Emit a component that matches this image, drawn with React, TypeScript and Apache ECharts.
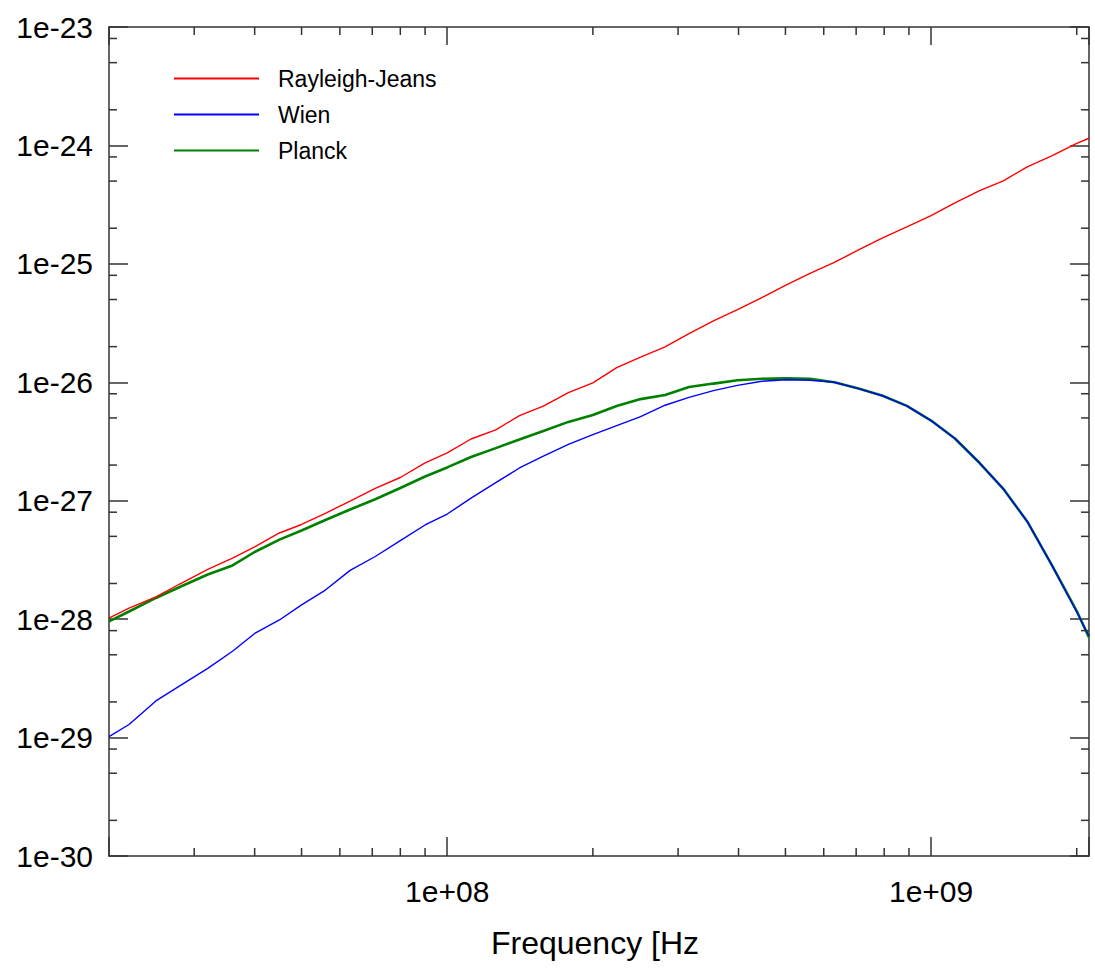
import React, { useEffect, useRef } from 'react';
import * as echarts from 'echarts';

// Frequency grid [Hz] (read positions along the x axis)
const frequency = [
  2.0e7, 2.2e7, 2.5e7, 2.8e7, 3.2e7, 3.6e7, 4.0e7, 4.5e7, 5.0e7, 5.6e7,
  6.3e7, 7.1e7, 8.0e7, 9.0e7, 1.0e8, 1.12e8, 1.26e8, 1.41e8, 1.58e8, 1.78e8,
  2.0e8, 2.24e8, 2.51e8, 2.82e8, 3.16e8, 3.55e8, 3.98e8, 4.47e8, 5.01e8, 5.62e8,
  6.31e8, 7.08e8, 7.94e8, 8.91e8, 1.0e9, 1.12e9, 1.26e9, 1.41e9, 1.58e9, 1.78e9,
  2.0e9, 2.12e9,
];

const rayleighJeans = [
  1.02e-28, 1.24e-28, 1.54e-28, 1.98e-28, 2.63e-28, 3.28e-28, 4.07e-28, 5.34e-28, 6.30e-28, 7.83e-28,
  9.94e-28, 1.27e-27, 1.57e-27, 2.09e-27, 2.53e-27, 3.32e-27, 3.97e-27, 5.23e-27, 6.30e-27, 8.17e-27,
  9.87e-27, 1.33e-26, 1.63e-26, 1.99e-26, 2.57e-26, 3.30e-26, 4.10e-26, 5.19e-26, 6.61e-26, 8.30e-26,
  1.03e-25, 1.31e-25, 1.66e-25, 2.05e-25, 2.56e-25, 3.28e-25, 4.16e-25, 5.02e-25, 6.59e-25, 8.20e-25,
  1.04e-24, 1.15e-24,
];

const wien = [
  1.02e-29, 1.29e-29, 2.04e-29, 2.73e-29, 3.84e-29, 5.36e-29, 7.57e-29, 9.84e-29, 1.32e-28, 1.76e-28,
  2.58e-28, 3.38e-28, 4.60e-28, 6.24e-28, 7.72e-28, 1.05e-27, 1.42e-27, 1.89e-27, 2.38e-27, 2.99e-27,
  3.62e-27, 4.31e-27, 5.13e-27, 6.40e-27, 7.46e-27, 8.51e-27, 9.42e-27, 1.02e-26, 1.05e-26, 1.04e-26,
  1.0e-26, 8.85e-27, 7.69e-27, 6.32e-27, 4.75e-27, 3.35e-27, 2.08e-27, 1.26e-27, 6.68e-28, 2.82e-28,
  1.15e-28, 7.2e-29,
];

const planck = [
  9.56e-29, 1.16e-28, 1.51e-28, 1.87e-28, 2.38e-28, 2.84e-28, 3.69e-28, 4.69e-28, 5.60e-28, 6.87e-28,
  8.43e-28, 1.03e-27, 1.28e-27, 1.60e-27, 1.91e-27, 2.34e-27, 2.78e-27, 3.29e-27, 3.88e-27, 4.63e-27,
  5.29e-27, 6.30e-27, 7.21e-27, 7.80e-27, 9.11e-27, 9.75e-27, 1.04e-26, 1.07e-26, 1.08e-26, 1.07e-26,
  1.0e-26, 8.85e-27, 7.69e-27, 6.32e-27, 4.75e-27, 3.35e-27, 2.08e-27, 1.26e-27, 6.68e-28, 2.82e-28,
  1.17e-28, 7.0e-29,
];

const seriesNames = ['Rayleigh-Jeans', 'Wien', 'Planck'];

const X_MIN = 2e7;
const X_MAX = 2.12e9;
const Y_MIN = 1e-30;
const Y_MAX = 1e-23;

// ECharts' log scale rounds tiny tick values to 0, so the y values are handed
// to the library in units of Y_UNIT and the labels restore the exponent.
const Y_UNIT = 1e-30;
const Y_UNIT_EXP = -30;

const xMinorTicks = [3e7, 4e7, 5e7, 6e7, 7e7, 8e7, 9e7, 2e8, 3e8, 4e8, 5e8, 6e8, 7e8, 8e8, 9e8, 2e9];
const yMinorTicks = [
  2e-30, 5e-30, 8e-30, 2e-29, 5e-29, 8e-29, 2e-28, 5e-28, 8e-28,
  2e-27, 5e-27, 8e-27, 2e-26, 5e-26, 8e-26, 2e-25, 5e-25, 8e-25, 2e-24, 5e-24, 8e-24,
];

const FONT = '"Liberation Sans", Arial, sans-serif';
const AXIS_COLOR = '#333333';

function isPow10(v: number) {
  const l = Math.log10(v);
  return Math.abs(l - Math.round(l)) < 1e-6;
}

function pair(xs: number[], ys: number[]) {
  return xs.map((x, i) => [x, ys[i] / Y_UNIT]);
}

function tickSeries(kind: 'x' | 'y', values: number[], len: number) {
  return {
    type: 'custom',
    silent: true,
    clip: false,
    z: 5,
    data: values.map((v) => (kind === 'x' ? [v, Y_MIN / Y_UNIT] : [X_MIN, v / Y_UNIT])),
    encode: { x: 0, y: 1 },
    renderItem: (params: any, api: any) => {
      const cs = params.coordSys;
      const p = api.coord([api.value(0), api.value(1)]);
      const style = { stroke: AXIS_COLOR, lineWidth: 1.5 };
      if (kind === 'x') {
        const yb = cs.y + cs.height;
        return {
          type: 'group',
          children: [
            { type: 'line', shape: { x1: p[0], y1: yb, x2: p[0], y2: yb - len }, style },
            { type: 'line', shape: { x1: p[0], y1: cs.y, x2: p[0], y2: cs.y + len }, style },
          ],
        };
      }
      const xr = cs.x + cs.width;
      return {
        type: 'group',
        children: [
          { type: 'line', shape: { x1: cs.x, y1: p[1], x2: cs.x + len, y2: p[1] }, style },
          { type: 'line', shape: { x1: xr, y1: p[1], x2: xr - len, y2: p[1] }, style },
        ],
      };
    },
  };
}

export default function App() {
  const ref = useRef<HTMLDivElement>(null);

  useEffect(() => {
    document.body.style.margin = '0';
    document.body.style.background = '#ffffff';
    const chart = echarts.init(ref.current as HTMLDivElement, null, { renderer: 'svg' });

    const axisLine = { show: true, lineStyle: { color: AXIS_COLOR, width: 1.5 } };
    const majorTick = { show: true, inside: true, length: 19, lineStyle: { color: AXIS_COLOR, width: 1.5 } };

    chart.setOption({
      animation: false,
      backgroundColor: '#ffffff',
      grid: { left: 109, top: 27, width: 980, height: 829, containLabel: false },
      legend: {
        orient: 'vertical',
        left: 168,
        top: 62,
        itemWidth: 85,
        itemHeight: 14,
        itemGap: 13,
        data: seriesNames,
        itemStyle: { opacity: 0 },
        textStyle: { fontFamily: FONT, fontSize: 23, color: '#000', padding: [0, 0, 0, 14] },
      },
      xAxis: [
        {
          type: 'log',
          logBase: 10,
          min: X_MIN,
          max: X_MAX,
          position: 'bottom',
          axisLine,
          axisTick: majorTick,
          splitLine: { show: false },
          axisLabel: {
            fontFamily: FONT,
            fontSize: 30,
            color: '#000',
            margin: 20,
            formatter: (v: number) => {
              if (!isPow10(v)) return '';
              const e = Math.round(Math.log10(v));
              return '1e+' + (e < 10 ? '0' + e : '' + e);
            },
          },
          name: 'Frequency [Hz',
          nameLocation: 'middle',
          nameGap: 71,
          nameTextStyle: { fontFamily: FONT, fontSize: 32, color: '#000', padding: [0, 8, 0, 0] },
        },
        {
          type: 'log',
          logBase: 10,
          min: X_MIN,
          max: X_MAX,
          position: 'top',
          axisLine,
          axisTick: { ...majorTick, length: 18 },
          axisLabel: { show: false },
          splitLine: { show: false },
        },
      ],
      yAxis: [
        {
          type: 'log',
          logBase: 10,
          min: Y_MIN / Y_UNIT,
          max: Y_MAX / Y_UNIT,
          position: 'left',
          axisLine,
          axisTick: majorTick,
          splitLine: { show: false },
          axisLabel: {
            fontFamily: FONT,
            fontSize: 30,
            color: '#000',
            margin: 16,
            formatter: (v: number) => {
              if (!isPow10(v)) return '';
              return '1e' + (Math.round(Math.log10(v)) + Y_UNIT_EXP);
            },
          },
        },
        {
          type: 'log',
          logBase: 10,
          min: Y_MIN / Y_UNIT,
          max: Y_MAX / Y_UNIT,
          position: 'right',
          axisLine,
          axisTick: majorTick,
          axisLabel: { show: false },
          splitLine: { show: false },
        },
      ],
      series: [
        {
          name: 'Rayleigh-Jeans',
          type: 'line',
          symbol: 'none',
          data: pair(frequency, rayleighJeans),
          lineStyle: { color: '#ff0000', width: 1.4 },
          itemStyle: { color: '#ff0000' },
          z: 3,
        },
        {
          name: 'Planck',
          type: 'line',
          symbol: 'none',
          data: pair(frequency, planck),
          lineStyle: { color: '#008000', width: 2.6 },
          itemStyle: { color: '#008000' },
          z: 2,
        },
        {
          name: 'Wien',
          type: 'line',
          symbol: 'none',
          data: pair(frequency, wien),
          lineStyle: { color: '#0000ff', width: 1.4 },
          itemStyle: { color: '#0000ff' },
          z: 4,
        },
        tickSeries('x', xMinorTicks, 8),
        tickSeries('y', yMinorTicks, 8),
      ],
    });

    return () => chart.dispose();
  }, []);

  return <div ref={ref} style={{ width: 1095, height: 969 }} />;
}
